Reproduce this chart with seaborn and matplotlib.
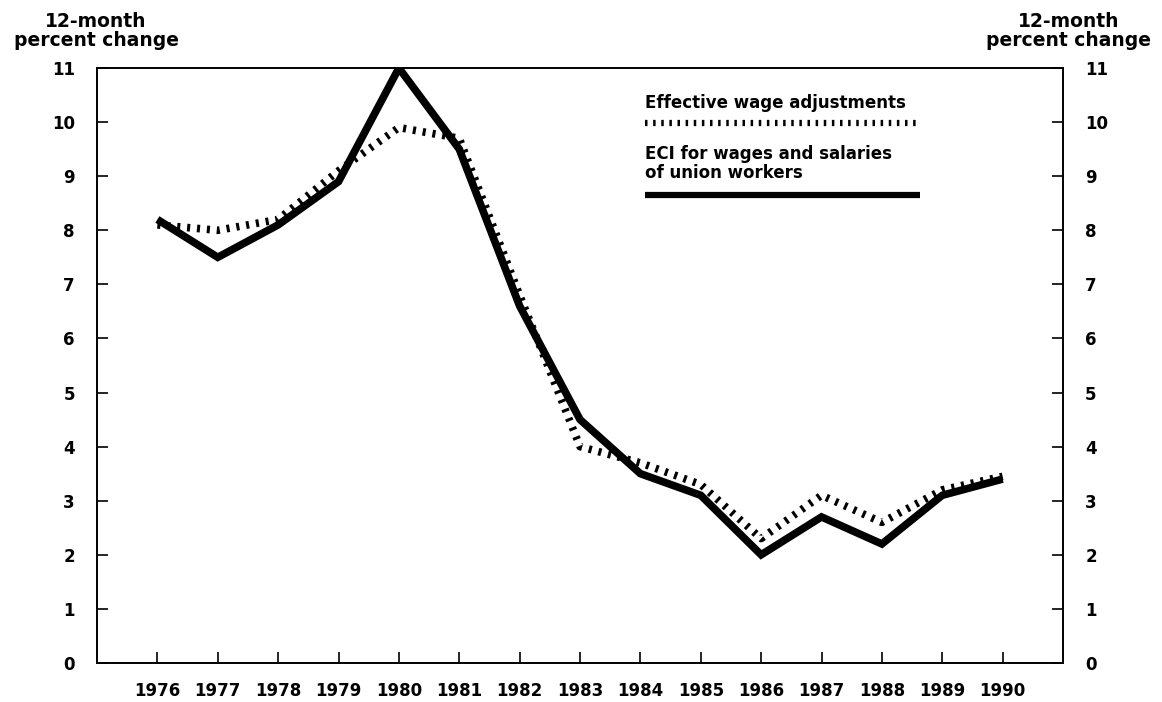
import matplotlib
matplotlib.use("Agg")
import matplotlib.pyplot as plt
from matplotlib.lines import Line2D
import seaborn as sns
import pandas as pd

years = [1976, 1977, 1978, 1979, 1980, 1981, 1982, 1983, 1984, 1985,
         1986, 1987, 1988, 1989, 1990]
effective_wage = [8.1, 8.0, 8.2, 9.1, 9.9, 9.7, 6.8, 4.0, 3.7, 3.3,
                  2.3, 3.1, 2.6, 3.2, 3.45]
eci_union = [8.2, 7.5, 8.1, 8.9, 11.0, 9.5, 6.6, 4.5, 3.5, 3.1,
             2.0, 2.7, 2.2, 3.1, 3.4]
y_ticks = list(range(0, 12))

sns.set_theme(style="white")
plt.rcParams['font.family'] = ['DejaVu Sans']
plt.rcParams['font.weight'] = 'bold'
plt.rcParams['text.color'] = 'black'

df = pd.DataFrame({"year": years, "effective": effective_wage, "eci": eci_union})

dots = (0, (0.4, 0.9))

fig = plt.figure(figsize=(11.62, 7.02), dpi=100)
ax = fig.add_axes([0.0835, 0.0556, 0.8313, 0.8475])

sns.lineplot(data=df, x="year", y="effective", ax=ax, color="black",
             linewidth=5.5, linestyle=dots,
             dash_capstyle="butt", solid_joinstyle="miter")
sns.lineplot(data=df, x="year", y="eci", ax=ax, color="black",
             linewidth=5.5, solid_capstyle="butt", solid_joinstyle="miter")

ax.set_xlim(1975, 1991)
ax.set_ylim(0, 11)
ax.set_xticks(years)
ax.set_xticklabels([str(y) for y in years], fontsize=12, fontweight="bold")
ax.set_yticks(y_ticks)
ax.set_yticklabels([str(t) for t in y_ticks], fontsize=12, fontweight="bold")
ax.set_xlabel("")
ax.set_ylabel("")
for s in ax.spines.values():
    s.set_visible(True)
    s.set_color("black")
    s.set_linewidth(1.4)
ax.tick_params(axis="both", direction="in", length=8, width=1.2, color="black",
               labelcolor="black")
ax.tick_params(axis="x", pad=14, bottom=True)
ax.tick_params(axis="y", pad=16, right=True, labelright=True, left=True)

# legend block, text above each sample line
ax.text(0.567, 0.941, "Effective wage adjustments", transform=ax.transAxes,
        fontsize=12, fontweight="bold", va="center", ha="left", color="black")
ax.add_line(Line2D([0.567, 0.852], [0.908, 0.908], transform=ax.transAxes,
                   color="black", linewidth=4.5, linestyle=dots,
                   dash_capstyle="butt"))
ax.text(0.567, 0.839, "ECI for wages and salaries\nof union workers",
        transform=ax.transAxes, fontsize=12, fontweight="bold", color="black",
        va="center", ha="left", linespacing=1.05)
ax.add_line(Line2D([0.567, 0.852], [0.787, 0.787], transform=ax.transAxes,
                   color="black", linewidth=4.5, solid_capstyle="butt"))

fig.text(96 / 1162, 1 - 31 / 702, "12-month\npercent change", ha="center",
         va="center", fontsize=13.5, fontweight="bold", linespacing=1.0,
         color="black")
fig.text(1069 / 1162, 1 - 31 / 702, "12-month\npercent change", ha="center",
         va="center", fontsize=13.5, fontweight="bold", linespacing=1.0,
         color="black")

fig.savefig("out.png", dpi=100)
